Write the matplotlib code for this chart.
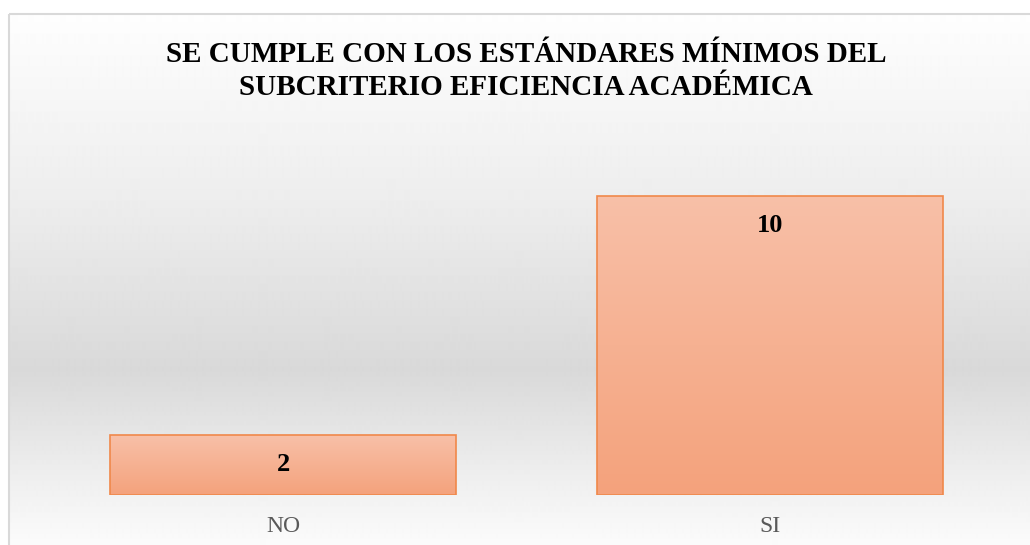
import numpy as np
import matplotlib
matplotlib.use("Agg")
import matplotlib.pyplot as plt
from matplotlib.colors import LinearSegmentedColormap, to_rgb
from matplotlib.patches import Rectangle

categories = ["NO", "SI"]
values = [2, 10]
title = "SE CUMPLE CON LOS ESTÁNDARES MÍNIMOS DEL\nSUBCRITERIO EFICIENCIA ACADÉMICA"

W, H = 1030, 545
fig = plt.figure(figsize=(W / 100, H / 100), dpi=100)
fig.patch.set_facecolor("white")

# background axes in pixel coordinates
bg = fig.add_axes([0, 0, 1, 1])
bg.set_xlim(0, W)
bg.set_ylim(H, 0)
bg.axis("off")
fx0, fy0 = 9, 14
ys = np.array([fy0, 200, 370, 470, H])
vals = np.array([0.995, 0.93, 0.85, 0.93, 0.985])
rows = np.interp(np.arange(fy0, H), ys, vals)
grad = np.repeat(rows[:, None], 2, axis=1)
bg.imshow(grad, cmap="gray", vmin=0, vmax=1, extent=(fx0, W + 2, H, fy0),
          aspect="auto", interpolation="bilinear", zorder=0)
bg.add_patch(Rectangle((fx0, fy0), W, H, fill=False, edgecolor="#d9d9d9", lw=1.5, zorder=1))

# main axes
left_px, right_px = 39.5, 1013.5
base_px, top_px = 495, 136
ax = fig.add_axes([left_px / W, 1 - base_px / H, (right_px - left_px) / W, (base_px - top_px) / H])
ax.patch.set_alpha(0)
x = np.arange(len(categories))
ax.set_xlim(-0.5, len(categories) - 0.5)
ax.set_ylim(0, 12)
bars = ax.bar(x, values, width=0.71, color="none", edgecolor="#f0884a", linewidth=1.2, zorder=3)
cmap = LinearSegmentedColormap.from_list("bar", [to_rgb("#f4a27c"), to_rgb("#f8c0a8")])
g = np.linspace(0, 1, 256)[:, None]
for b in bars:
    x0, y0 = b.get_x(), b.get_y()
    w, h = b.get_width(), b.get_height()
    im = ax.imshow(g, cmap=cmap, extent=(x0, x0 + w, y0, y0 + h), origin="lower",
                   aspect="auto", interpolation="bilinear", zorder=2)
    im.set_clip_path(b)
ax.set_xlim(-0.5, len(categories) - 0.5)
ax.set_ylim(0, 12)

for xi, v in zip(x, values):
    ax.text(xi, v - 0.98, str(v), ha="center", va="center", fontsize=19,
            fontweight="bold", family="Liberation Serif", color="black", zorder=4)

for s in ax.spines.values():
    s.set_visible(False)
ax.set_yticks([])
ax.set_xticks(x)
ax.set_xticklabels(categories, family="Liberation Serif", fontsize=17, color="#595959")
ax.tick_params(axis="x", length=0, pad=15)

fig.text(526 / W, 1 - 71 / H, title, ha="center", va="center", fontsize=21,
         fontweight="bold", family="Liberation Serif", linespacing=1.3)

fig.savefig("out.png", dpi=100)
